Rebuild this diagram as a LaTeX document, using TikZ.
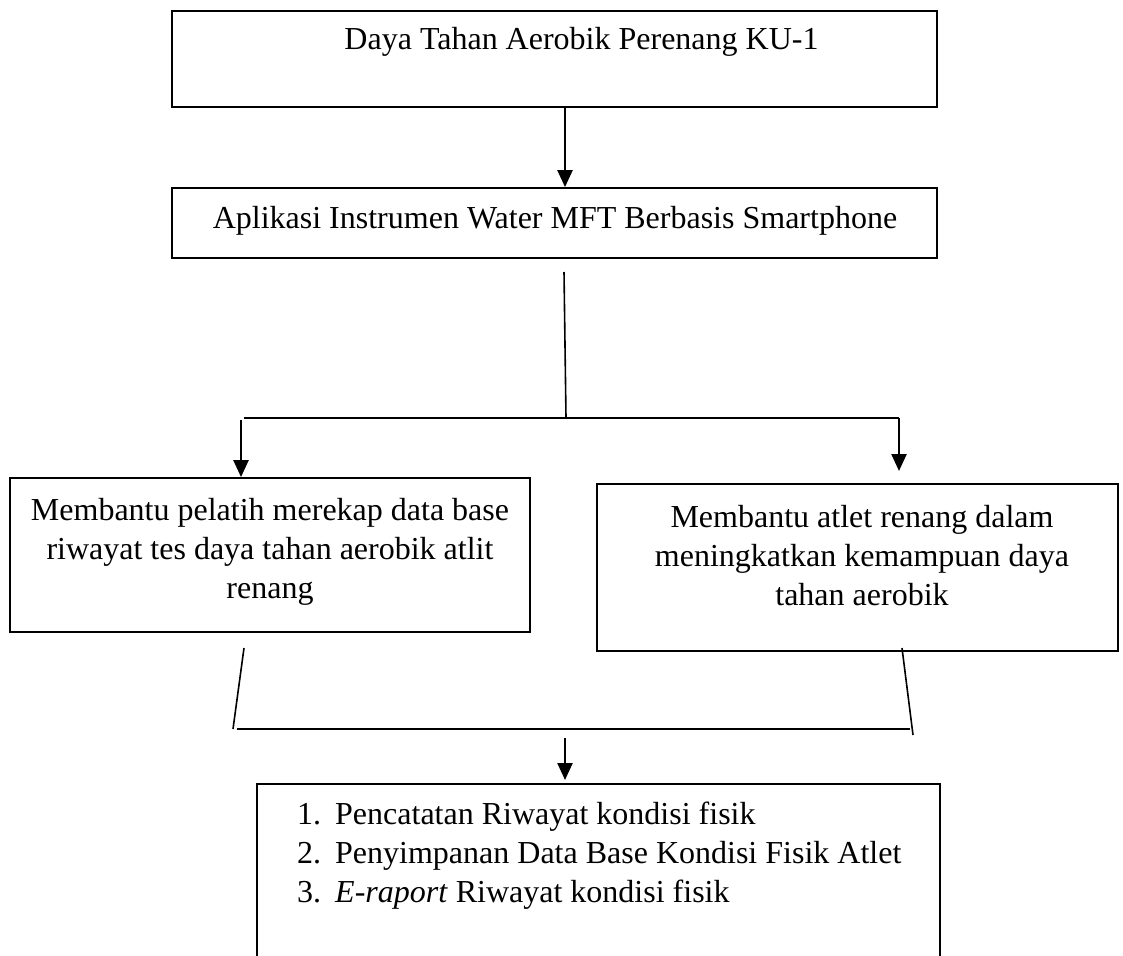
\documentclass[tikz,border=0pt]{standalone}
\usepackage{fontspec}
\setmainfont{Liberation Serif}
\usetikzlibrary{arrows.meta}
\begin{document}
\begin{tikzpicture}[x=1pt,y=-1pt,
  box/.style={draw, line width=1.8pt, inner sep=0pt},
  txt/.style={font=\fontsize{32}{39}\selectfont, inner sep=0pt, align=center},
  arr/.style={line width=2.4pt, -{Triangle[width=15pt,length=17pt]}},
  ln/.style={line width=1.6pt}]
\useasboundingbox (0,0) rectangle (1123,955);
% boxes
\node[box, minimum width=765pt, minimum height=96pt] (b1) at (554.5,59) {};
\node[box, minimum width=765pt, minimum height=70pt] (b2) at (554.5,223) {};
\node[box, minimum width=520pt, minimum height=154pt] (b3) at (270,555) {};
\node[box, minimum width=521pt, minimum height=167pt] (b4) at (857.5,567.5) {};
\node[box, minimum width=683pt, minimum height=191pt] (b5) at (598.5,879.5) {};
% texts
\node[txt, anchor=base] (t1) at (581.5,50) {Daya Tahan Aerobik Perenang KU-1};
\node[txt, anchor=base] (t2) at (555,228) {Aplikasi Instrumen Water MFT Berbasis Smartphone};
\node[txt, anchor=north] (t3) at (270,498) {Membantu pelatih merekap data base\\riwayat tes daya tahan aerobik atlit\\renang};
\node[txt, anchor=north] (t4) at (862,505) {Membantu atlet renang dalam\\meningkatkan kemampuan daya\\tahan aerobik};
\node[txt, align=left, anchor=north west] (t5) at (297,802) {\makebox[38pt][l]{1.}Pencatatan Riwayat kondisi fisik\\
\makebox[38pt][l]{2.}Penyimpanan Data Base Kondisi Fisik Atlet\\
\makebox[38pt][l]{3.}\textit{E-raport} Riwayat kondisi fisik};
% connectors
\coordinate (c1) at (565,0);
\draw[arr] (b1.south -| c1) -- (b2.north -| c1);
\coordinate (j0) at (564,272);
\coordinate (j1) at (566,418);
\draw[ln] (j0) -- (j1);
\coordinate (hl) at (244,418);
\coordinate (hr) at (899,418);
\draw[ln] (hl) -- (hr);
\coordinate (dl) at (241,420);
\draw[arr] (dl) -- (b3.north -| dl);
\coordinate (er) at (899,471);
\draw[arr] (hr) -- (er);
\coordinate (sl1) at (244,648);
\coordinate (sl2) at (233,729);
\draw[ln] (sl1) -- (sl2);
\coordinate (sr1) at (902,648);
\coordinate (sr2) at (913,735);
\draw[ln] (sr1) -- (sr2);
\coordinate (ml) at (237,729);
\coordinate (mr) at (910,729);
\draw[ln] (ml) -- (mr);
\coordinate (a0) at (565,738);
\coordinate (a1) at (565,780);
\draw[arr] (a0) -- (a1);
\end{tikzpicture}
\end{document}
